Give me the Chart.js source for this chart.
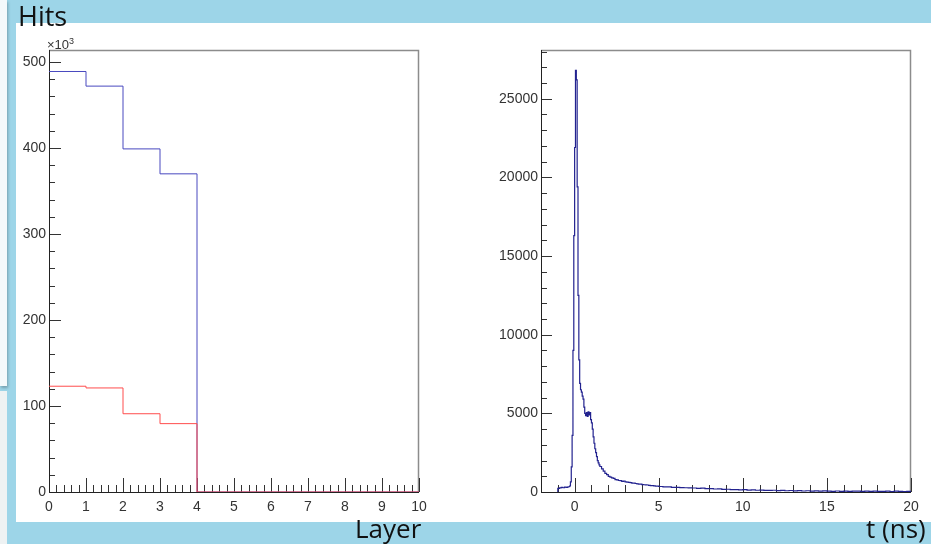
<!DOCTYPE html>
<html>
<head>
<meta charset="utf-8">
<script src="https://cdn.jsdelivr.net/npm/chart.js@4.4.0/dist/chart.umd.min.js"></script>
<style>
html, body { margin: 0; padding: 0; }
body { width: 931px; height: 544px; background: #9dd5e8; position: relative; overflow: hidden; font-family: "Liberation Sans", Arial, sans-serif; }
#panel { position: absolute; left: 16px; top: 23px; width: 915px; height: 499px; background: #fff; }
#strip { position: absolute; left: 0; top: 0; width: 7px; height: 386px; background: #f4f9fb; box-shadow: 1px 2px 3px rgba(0,0,0,.25); }
#strip2 { position: absolute; left: 0; top: 391px; width: 7px; height: 153px; background: #eef2f3; }
.wrap { position: absolute; top: 30px; height: 490px; }
#w1 { left: 0; width: 440px; }
#w2 { left: 460px; width: 471px; }
.big { position: absolute; font-family: "Open Sans", sans-serif; color: #111; line-height: 1; white-space: nowrap; }
#exp { position: absolute; left: 47px; top: 37px; font-size: 13px; color: #333; line-height: 1; }
#exp sup { font-size: 9px; vertical-align: 5px; }
</style>
</head>
<body>
<div id="strip"></div>
<div id="strip2"></div>
<div id="panel"></div>
<div class="wrap" id="w1"><canvas id="layerChart"></canvas></div>
<div class="wrap" id="w2"><canvas id="timeChart"></canvas></div>
<div id="exp">×10<sup>3</sup></div>
<div class="big" style="left:18px; top:2px; font-size:27px;">Hits</div>
<div class="big" style="left:355px; top:515px; font-size:26px;">Layer</div>
<div class="big" style="left:866px; top:515px; font-size:26px;">t (ns)</div>
<script>
// layer histogram (hits in units of 10^3), bins of width 1
var layerEdges = [0, 1, 2, 3, 4, 5, 6, 7, 8, 9];
var hitsBlue = [489, 472, 399, 370, 0, 0, 0, 0, 0, 0];
var hitsRed = [123, 121, 91, 79.5, 0, 0, 0, 0, 0, 0];
var layerXTicks = [0, 1, 2, 3, 4, 5, 6, 7, 8, 9, 10];
var layerYTicks = [0, 100, 200, 300, 400, 500];

// time histogram, read in pieces with different bin widths
var preT0 = -1.0, preStep = 0.1;
var preHits = [230, 265, 290, 270, 305, 300, 335];
var fineT0 = -0.3, fineStep = 0.05;
var fineHits = [380, 650, 1600, 3600, 9000, 16300, 21900, 26800, 26200, 19400,
	12500, 8400, 6900, 6500, 6350, 6100, 5900, 5400, 5000, 4850,
	5050, 4800, 5100, 4900, 5050, 4600, 4400, 4000, 3500, 3100,
	2750, 2500, 2250, 2000, 1850, 1720];
var midT0 = 1.5, midStep = 0.1;
var midHits = [1620, 1470, 1330, 1190, 1110, 990, 950, 900, 860, 790,
	770, 730, 720, 680, 690, 650, 630, 610, 600, 570,
	570, 540, 520, 500, 500, 470, 460, 450, 445, 420,
	410, 405, 390, 375, 370];
var tailT0 = 5.0, tailStep = 0.25;
var tailHits = [350, 330, 330, 300, 300, 275, 270, 260, 255, 230,
	240, 210, 210, 190, 195, 170, 175, 155, 155, 135,
	145, 120, 135, 110, 125, 100, 105, 110, 85, 100,
	80, 95, 70, 85, 65, 80, 60, 75, 55, 70,
	60, 45, 65, 45, 60, 40, 50, 60, 35, 55,
	35, 55, 40, 45, 50, 30, 50, 40, 30, 45];
var timeXTicks = [0, 5, 10, 15, 20];
var timeYTicks = [0, 5000, 10000, 15000, 20000, 25000];

function histPoints(edges, width, vals, fromZero) {
	var pts = [];
	if (fromZero) pts.push({x: edges[0], y: 0});
	for (var i = 0; i < vals.length; i++) {
		pts.push({x: edges[i], y: vals[i]});
	}
	pts.push({x: edges[edges.length - 1] + width, y: vals[vals.length - 1]});
	return pts;
}

function segment(t0, step, vals, edges, all) {
	for (var i = 0; i < vals.length; i++) {
		edges.push(Math.round((t0 + i * step) * 1000) / 1000);
		all.push(vals[i]);
	}
}
var timeEdges = [], timeHits = [];
segment(preT0, preStep, preHits, timeEdges, timeHits);
segment(fineT0, fineStep, fineHits, timeEdges, timeHits);
segment(midT0, midStep, midHits, timeEdges, timeHits);
segment(tailT0, tailStep, tailHits, timeEdges, timeHits);

// ROOT-like frame: ticks drawn inside the frame
var rootFrame = {
	id: 'rootFrame',
	beforeDatasetsDraw: function (chart, args, o) {
		var ctx = chart.ctx, a = chart.chartArea;
		var xs = chart.scales.x, ys = chart.scales.y;
		ctx.save();
		ctx.strokeStyle = '#8c8c8c';
		ctx.lineWidth = 1.5;
		ctx.beginPath();
		ctx.moveTo(a.left, a.top + 0.5);
		ctx.lineTo(a.right - 0.5, a.top + 0.5);
		ctx.lineTo(a.right - 0.5, a.bottom);
		ctx.stroke();
		ctx.strokeStyle = '#333';
		ctx.lineWidth = 1;
		ctx.beginPath();
		var n, v, p, len;
		for (n = Math.ceil(xs.min / o.xMinor - 1e-6); n * o.xMinor <= xs.max + 1e-6; n++) {
			v = n * o.xMinor;
			len = Math.abs(v / o.xMajor - Math.round(v / o.xMajor)) < 1e-6 ? o.xMajLen : o.xMinLen;
			p = Math.round(xs.getPixelForValue(v)) + 0.5;
			ctx.moveTo(p, a.bottom);
			ctx.lineTo(p, a.bottom - len);
		}
		for (n = Math.ceil(ys.min / o.yMinor - 1e-6); n * o.yMinor <= ys.max + 1e-6; n++) {
			v = n * o.yMinor;
			len = Math.abs(v / o.yMajor - Math.round(v / o.yMajor)) < 1e-6 ? o.yMajLen : o.yMinLen;
			p = Math.round(ys.getPixelForValue(v)) + 0.5;
			ctx.moveTo(a.left, p);
			ctx.lineTo(a.left + len, p);
		}
		ctx.stroke();
		ctx.strokeStyle = '#222';
		ctx.beginPath();
		ctx.moveTo(a.left + 0.5, a.top);
		ctx.lineTo(a.left + 0.5, a.bottom + 0.5);
		ctx.lineTo(a.right, a.bottom + 0.5);
		ctx.stroke();
		ctx.restore();
	}
};

Chart.defaults.font.family = '"Liberation Sans", Arial, sans-serif';
Chart.defaults.font.size = 14;
Chart.defaults.color = '#333';

function makeChart(id, datasets, xo, yo, pad, yWidth, frame) {
	return new Chart(document.getElementById(id), {
		type: 'line',
		data: {datasets: datasets},
		plugins: [rootFrame],
		options: {
			responsive: true,
			maintainAspectRatio: false,
			animation: false,
			events: [],
			layout: {padding: pad},
			plugins: {legend: {display: false}, tooltip: {enabled: false}, rootFrame: frame},
			scales: {
				x: {
					type: 'linear', min: xo.min, max: xo.max,
					grid: {display: false, drawTicks: false},
					border: {display: false},
					ticks: {padding: 7, maxRotation: 0, autoSkip: false,
						callback: function (v) { return String(v); }},
					afterBuildTicks: function (s) { s.ticks = xo.ticks.map(function (v) { return {value: v}; }); },
					afterFit: function (s) { s.height = 28; }
				},
				y: {
					type: 'linear', min: yo.min, max: yo.max,
					grid: {display: false, drawTicks: false},
					border: {display: false},
					ticks: {padding: 3, autoSkip: false,
						callback: function (v) { return String(v); }},
					afterBuildTicks: function (s) { s.ticks = yo.ticks.map(function (v) { return {value: v}; }); },
					afterFit: function (s) { s.width = yWidth; }
				}
			}
		}
	});
}

function lineSet(pts, color, w) {
	return {data: pts, stepped: 'before', borderColor: color, borderWidth: w,
		pointRadius: 0, fill: false, tension: 0};
}

makeChart('layerChart', [
	lineSet(histPoints(layerEdges, 1, hitsRed, false), '#ff4d4d', 1),
	lineSet(histPoints(layerEdges, 1, hitsBlue, false), '#4848bf', 1)
], {min: 0, max: 10, ticks: layerXTicks}, {min: 0, max: 514, ticks: layerYTicks},
	{top: 20, right: 21, left: 0, bottom: 0}, 49,
	{xMinor: 0.2, xMajor: 1, xMajLen: 14, xMinLen: 7, yMinor: 20, yMajor: 100, yMajLen: 12, yMinLen: 6});

makeChart('timeChart', [
	lineSet(histPoints(timeEdges, tailStep, timeHits, true), '#22228f', 1.2)
], {min: -2, max: 20, ticks: timeXTicks}, {min: 0, max: 28100, ticks: timeYTicks},
	{top: 20, right: 20, left: 0, bottom: 0}, 81,
	{xMinor: 1, xMajor: 5, xMajLen: 14, xMinLen: 7, yMinor: 1000, yMajor: 5000, yMajLen: 11, yMinLen: 6});
</script>
</body>
</html>
